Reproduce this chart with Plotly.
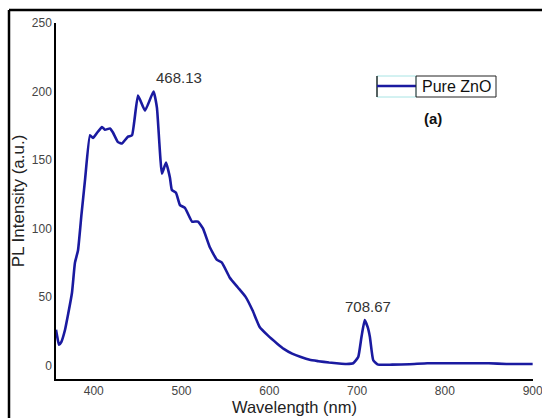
import plotly.graph_objects as go

# Data
wavelength = [357, 358.1, 360.4, 363, 367.3, 371, 375.2, 378.6, 382.1, 386, 390, 395.7, 399.1,
              404, 409.4, 412.8, 418.5, 421.9, 427.6, 432.2, 439, 443.6, 450.4, 458.4, 468.13,
              472, 477.7, 482.3, 486.8, 489, 493.7, 498.2, 503.9, 511.9, 518.7, 524.4, 532.4,
              540.4, 546, 555, 564, 573, 581, 589, 598, 608.7, 616.5, 626, 636, 646, 656, 668,
              679.5, 688, 695.6, 701.3, 705, 708.67, 712, 714.6, 718.4, 724, 740, 760, 780,
              800, 820, 850, 870, 900]
intensity = [26, 22, 15, 17, 26, 38, 53, 75, 84, 110, 135, 168, 166,
             170, 174, 172, 173, 170, 163, 162, 167, 168, 197, 186, 200,
             188, 140, 148, 137, 128, 126, 117, 115, 105, 105, 100, 86,
             77, 75, 64, 57, 50, 40, 28, 22, 16, 12, 8.5, 6, 4, 3, 2,
             1.3, 1, 1.5, 6, 20.7, 33, 28, 20.7, 3.7, 0.5, 0.5, 0.8, 1.5,
             1.5, 1.5, 1.5, 1, 1]
peak_labels = ["468.13", "708.67"]
peak_x = [468.13, 708.67]
peak_y = [200, 33]
series_name = "Pure ZnO"
x_ticks = [400, 500, 600, 700, 800, 900]
y_ticks = [0, 50, 100, 150, 200, 250]

W, H = 542, 418
L, R, T, B = 56, 9, 23, 39
PW, PH = W - L - R, H - T - B


def px(p):
    return (p - L) / PW


def py(p):
    return (H - B - p) / PH


fig = go.Figure()
fig.add_trace(go.Scatter(
    x=wavelength, y=intensity, mode="lines", name=series_name,
    line=dict(color="#1a1aa0", width=2.6, shape="spline", smoothing=0.4),
    showlegend=False,
))

font_fam = "Liberation Sans, Arial, sans-serif"
annotations = [
    dict(x=peak_x[0], y=peak_y[0], xref="x", yref="y", text=peak_labels[0], showarrow=False,
         xanchor="left", yanchor="bottom", xshift=0, yshift=3,
         font=dict(family=font_fam, size=15, color="#333")),
    dict(x=peak_x[1], y=peak_y[1], xref="x", yref="y", text=peak_labels[1], showarrow=False,
         xanchor="center", yanchor="bottom", xshift=3, yshift=3,
         font=dict(family=font_fam, size=15, color="#333")),
    # legend drawn manually
    dict(x=px(456), y=py(86.5), xref="paper", yref="paper", text=series_name,
         xanchor="center", yanchor="middle", showarrow=False,
         font=dict(family=font_fam, size=16, color="#111")),
    dict(x=px(433), y=py(118), xref="paper", yref="paper", text="<b>(a)</b>",
         xanchor="center", yanchor="middle", showarrow=False,
         font=dict(family=font_fam, size=15, color="#111")),
]

shapes = [
    # outer frame
    dict(type="line", xref="paper", yref="paper", x0=px(9), x1=px(545), y0=py(10), y1=py(10),
         line=dict(color="black", width=2.5)),
    dict(type="line", xref="paper", yref="paper", x0=px(9), x1=px(9), y0=py(10), y1=py(425),
         line=dict(color="black", width=2.5)),
    # legend sample box
    dict(type="rect", xref="paper", yref="paper", x0=px(377), x1=px(416), y0=py(97), y1=py(76),
         line=dict(color="#a8e4e4", width=1)),
    dict(type="line", xref="paper", yref="paper", x0=px(377), x1=px(377), y0=py(97), y1=py(76),
         line=dict(color="black", width=1.2)),
    dict(type="line", xref="paper", yref="paper", x0=px(377), x1=px(416), y0=py(86), y1=py(86),
         line=dict(color="#1a1aa0", width=2.5)),
    dict(type="rect", xref="paper", yref="paper", x0=px(416), x1=px(496), y0=py(97), y1=py(76),
         line=dict(color="#222", width=1)),
]

fig.update_layout(
    width=W, height=H,
    margin=dict(l=L, r=R, t=T, b=B, pad=0, autoexpand=False),
    paper_bgcolor="white", plot_bgcolor="white",
    font=dict(family=font_fam, size=12, color="#444"),
    annotations=annotations, shapes=shapes,
    xaxis=dict(range=[357, 900.4], tickvals=x_ticks, ticks="", showgrid=False, zeroline=False,
               showline=True, linecolor="black", linewidth=1.5, automargin=False,
               ticklabeloverflow="allow",
               tickfont=dict(size=12, color="#444"),
               title=dict(text="Wavelength (nm)", standoff=3,
                          font=dict(size=16.5, color="#222"))),
    yaxis=dict(range=[-10, 250], tickvals=y_ticks, ticks="", showgrid=False, zeroline=False,
               showline=True, linecolor="black", linewidth=1.5, automargin=False,
               tickfont=dict(size=12, color="#444"),
               title=dict(text="PL Intensity (a.u.)", standoff=3,
                          font=dict(size=17, color="#222"))),
)

fig.write_html("out.html", config={"displayModeBar": False},
               post_script="document.body.style.margin='0';document.body.style.overflow='hidden';")
